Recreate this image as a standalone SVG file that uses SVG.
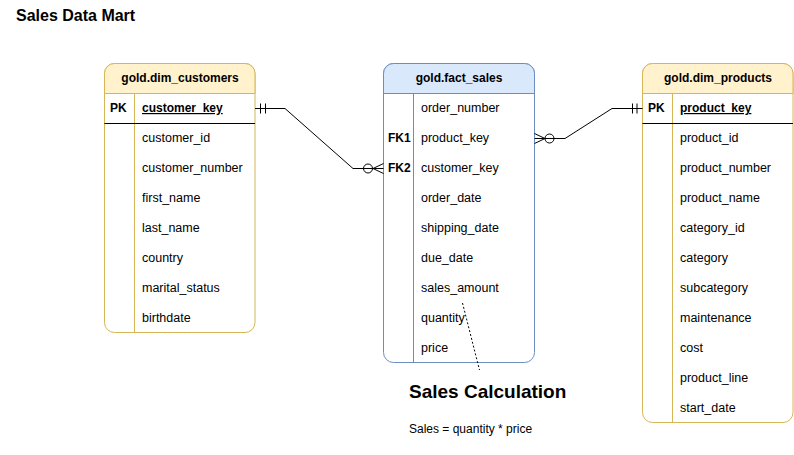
<svg xmlns="http://www.w3.org/2000/svg" width="794" height="455" viewBox="0 0 794 455">
<style>
text{font-family:"Liberation Sans",Arial,sans-serif;fill:#000}
.t{font-size:12.5px}
.b{font-size:12px;font-weight:bold}
.h{font-size:12px;font-weight:bold;text-anchor:middle}
.y{fill:#fff2cc;stroke:#d6b656}
.yb{fill:#ffffff;stroke:#d6b656}
.yl{stroke:#d6b656;fill:none}
.bl{fill:#dae8fc;stroke:#6c8ebf}
.bb{fill:#ffffff;stroke:#6c8ebf}
.bll{stroke:#6c8ebf;fill:none}
.c{stroke:#000;fill:none;stroke-width:1}
</style>
<rect width="794" height="455" fill="#fff"/>
<text x="16" y="21" style="font-size:16px;font-weight:bold">Sales Data Mart</text>

<g id="dim_customers">
<rect class="yb" x="104.5" y="63.5" width="150.5" height="269" rx="10"/>
<path class="y" d="M104.5,93.5 V73.5 A10,10 0 0 1 114.5,63.5 H245 A10,10 0 0 1 255,73.5 V93.5 Z"/>
<text class="h" x="180" y="82">gold.dim_customers</text>
<line class="yl" x1="134.5" y1="93.5" x2="134.5" y2="332.5"/>
<line x1="104.5" y1="123.5" x2="255" y2="123.5" stroke="#000"/>
<text class="b" x="110" y="112">PK</text>
<text class="b" x="142" y="112" text-decoration="underline">customer_key</text>
<text class="t" x="142" y="142">customer_id</text>
<text class="t" x="142" y="172">customer_number</text>
<text class="t" x="142" y="202">first_name</text>
<text class="t" x="142" y="232">last_name</text>
<text class="t" x="142" y="262">country</text>
<text class="t" x="142" y="292">marital_status</text>
<text class="t" x="142" y="322">birthdate</text>
</g>

<g id="fact_sales">
<rect class="bb" x="383.5" y="63.5" width="151" height="299" rx="10"/>
<path class="bl" d="M383.5,93.5 V73.5 A10,10 0 0 1 393.5,63.5 H524.5 A10,10 0 0 1 534.5,73.5 V93.5 Z"/>
<text class="h" x="459" y="82">gold.fact_sales</text>
<line class="bll" x1="413.5" y1="93.5" x2="413.5" y2="362.5"/>
<text class="t" x="421" y="112">order_number</text>
<text class="b" x="388" y="142">FK1</text>
<text class="t" x="421" y="142">product_key</text>
<text class="b" x="388" y="172">FK2</text>
<text class="t" x="421" y="172">customer_key</text>
<text class="t" x="421" y="202">order_date</text>
<text class="t" x="421" y="232">shipping_date</text>
<text class="t" x="421" y="262">due_date</text>
<text class="t" x="421" y="292">sales_amount</text>
<text class="t" x="421" y="322">quantity</text>
<text class="t" x="421" y="352">price</text>
</g>

<g id="dim_products">
<rect class="yb" x="642.5" y="63.5" width="150.5" height="359" rx="10"/>
<path class="y" d="M642.5,93.5 V73.5 A10,10 0 0 1 652.5,63.5 H783 A10,10 0 0 1 793,73.5 V93.5 Z"/>
<text class="h" x="718" y="82">gold.dim_products</text>
<line class="yl" x1="672.5" y1="93.5" x2="672.5" y2="422.5"/>
<line x1="642.5" y1="123.5" x2="793" y2="123.5" stroke="#000"/>
<text class="b" x="648" y="112">PK</text>
<text class="b" x="680" y="112" text-decoration="underline">product_key</text>
<text class="t" x="680" y="142">product_id</text>
<text class="t" x="680" y="172">product_number</text>
<text class="t" x="680" y="202">product_name</text>
<text class="t" x="680" y="232">category_id</text>
<text class="t" x="680" y="262">category</text>
<text class="t" x="680" y="292">subcategory</text>
<text class="t" x="680" y="322">maintenance</text>
<text class="t" x="680" y="352">cost</text>
<text class="t" x="680" y="382">product_line</text>
<text class="t" x="680" y="412">start_date</text>
</g>

<g id="connectors">
<path class="c" d="M255,108.5 H285 L353,168.5 H383.5"/>
<line class="c" x1="260.5" y1="103.5" x2="260.5" y2="113.5"/>
<line class="c" x1="265.5" y1="103.5" x2="265.5" y2="113.5"/>
<circle class="c" cx="368" cy="168.5" r="4.5" fill="#fff"/>
<path class="c" d="M383.5,163.5 L373,168.5 L383.5,173.5"/>

<path class="c" d="M534.5,138.5 H565 L612,108.5 H642.5"/>
<line class="c" x1="632.5" y1="103.5" x2="632.5" y2="113.5"/>
<line class="c" x1="637" y1="103.5" x2="637" y2="113.5"/>
<circle class="c" cx="549.5" cy="138.5" r="4.5" fill="#fff"/>
<path class="c" d="M534.5,133.5 L545,138.5 L534.5,143.5"/>

<line x1="462.5" y1="303" x2="479.5" y2="370" stroke="#000" stroke-dasharray="2,2"/>
</g>

<g id="sales_calculation">
<text x="409" y="398" style="font-size:19px;font-weight:bold">Sales Calculation</text>
<text x="409" y="433" style="font-size:12px">Sales = quantity * price</text>
</g>
</svg>
